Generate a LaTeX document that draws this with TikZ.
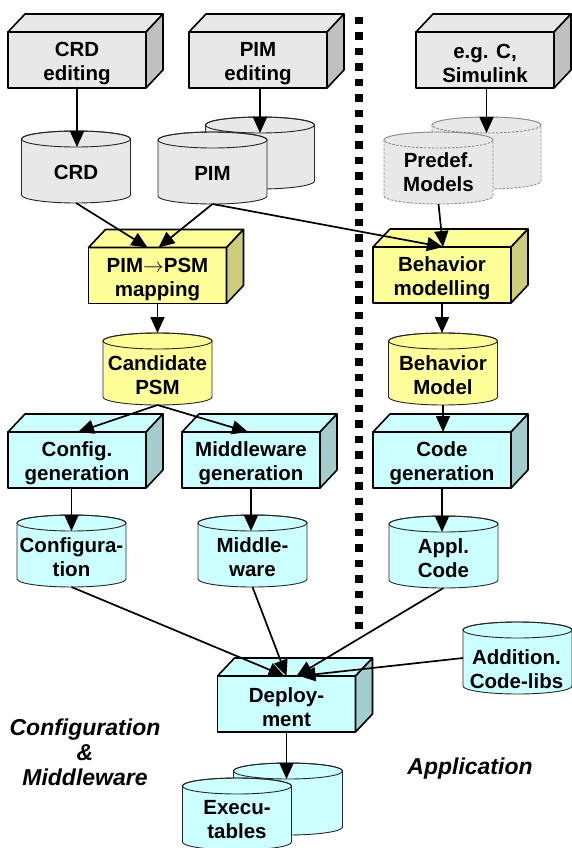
\documentclass[tikz,border=0pt]{standalone}
\usepackage{fontspec}
\setmainfont{Liberation Sans}
\usetikzlibrary{arrows.meta}

\definecolor{grayF}{HTML}{E8E8E8}
\definecolor{grayS}{HTML}{C0C0C0}
\definecolor{yelF}{HTML}{FFFF99}
\definecolor{yelS}{HTML}{CCCC7A}
\definecolor{cyaF}{HTML}{CCFFFF}
\definecolor{cyaS}{HTML}{A3CCCC}

% strut that lowers the two-line text inside the process boxes a little
\newcommand\boxstrut{\rule{0pt}{22pt}}

\tikzset{
  lbl/.style={font=\fontsize{20.5}{24}\selectfont\bfseries, align=center, text=black, inner sep=0pt},
  proc/.style={lbl, draw=black, line width=1.6pt, minimum width=138pt, minimum height=56pt,
    outer sep=0pt, line join=round},
  arr/.style={line width=1.7pt, -{Triangle[length=16pt,width=14pt]}},
  drumline/.style={draw=black!85, line width=0.9pt},
  drumdash/.style={draw=black!45, line width=0.9pt, dash pattern=on 2.5pt off 1.5pt},
  region/.style={font=\fontsize{23}{25}\selectfont\bfseries\itshape, align=center, inner sep=0pt},
  divider/.style={line width=8pt, dash pattern=on 7.5pt off 8pt},
}

% top and side faces of a 3-D process box
\newcommand\procfaces[3]{%
  \filldraw[fill=#2, line width=1.6pt, line join=round]
    (#1.north west) -- ++(17,-18) -- ([shift={(17,-18)}]#1.north east) -- (#1.north east) -- cycle;
  \filldraw[fill=#3, line width=1.6pt, line join=round]
    (#1.north east) -- ++(17,-18) -- ([shift={(17,-18)}]#1.south east) -- (#1.south east) -- cycle;
}

% data store drum: name, centre x, top y, fill, line style
\newcommand\drum[5]{%
  \path[fill=#4, #5] (#2-54.5, #3+8) -- (#2-54.5, #3+64)
    arc[start angle=180, end angle=0, x radius=54.5, y radius=8] -- (#2+54.5, #3+8)
    arc[start angle=0, end angle=-180, x radius=54.5, y radius=8] -- cycle;
  \path[#5] (#2, #3+8) ellipse[x radius=54.5, y radius=8];
  \coordinate (#1-top) at (#2, #3);
  \coordinate (#1-in) at (#2, #3+16);
  \coordinate (#1-bot) at (#2, #3+72);
  \coordinate (#1-left) at (#2-54.5, #3+36);
}

\begin{document}
\begin{tikzpicture}[x=1pt, y=-1pt]
\useasboundingbox (0,0) rectangle (571,848);

% column divider
\draw[divider] (359,17) -- (359,632);

% ---- editors ----
\node[proc, fill=grayF] (crded) at (77,60) {\boxstrut CRD\\editing};
\procfaces{crded}{grayF}{grayS}
\node[proc, fill=grayF] (pimed) at (258,60) {\boxstrut PIM\\editing};
\procfaces{pimed}{grayF}{grayS}
\node[proc, fill=grayF] (simed) at (485,60) {\boxstrut e.g. C,\\Simulink};
\procfaces{simed}{grayF}{grayS}

% ---- source models ----
\drum{crdd}{76}{131}{grayF}{drumline}
\node[lbl] (crd) at (76,172) {CRD};
\drum{pimb}{260}{117}{grayF}{drumline}
\drum{pimd}{212.5}{132}{grayF}{drumline}
\node[lbl] (pim) at (212.5,173) {PIM};
\drum{predefb}{486.5}{117}{grayF}{drumdash}
\drum{predefd}{438.5}{132}{grayF}{drumdash}
\node[lbl] (predef) at (438.5,172) {Predef.\\Models};

% ---- mapping / behaviour ----
\node[proc, fill=yelF] (map) at (157.5,275.5) {\boxstrut PIM$\rightarrow$PSM\\mapping};
\procfaces{map}{yelF}{yelS}
\node[proc, fill=yelF] (bmodg) at (442,275) {\boxstrut Behavior\\modelling};
\procfaces{bmodg}{yelF}{yelS}

\drum{candd}{157.5}{333}{yelF}{drumline}
\node[lbl] (cand) at (157.5,375) {Candidate\\PSM};
\drum{bmodd}{443}{333}{yelF}{drumline}
\node[lbl] (bmod) at (443,375) {Behavior\\Model};

% ---- generators ----
\node[proc, fill=cyaF] (cfgg) at (77,460) {\boxstrut Config.\\generation};
\procfaces{cfgg}{cyaF}{cyaS}
\node[proc, fill=cyaF] (mwg) at (251,460) {\boxstrut Middleware\\generation};
\procfaces{mwg}{cyaF}{cyaS}
\node[proc, fill=cyaF] (codeg) at (442,460) {\boxstrut Code\\generation};
\procfaces{codeg}{cyaF}{cyaS}

\drum{confd}{71.5}{515}{cyaF}{drumline}
\node[lbl] (conf) at (71.5,557) {Configura-\\tion};
\drum{mwrd}{252.5}{515}{cyaF}{drumline}
\node[lbl] (mwr) at (252.5,557) {Middle-\\ware};
\drum{appld}{443.5}{516}{cyaF}{drumline}
\node[lbl] (appl) at (443.5,558) {Appl.\\Code};
\drum{addld}{517.5}{622}{cyaF}{drumline}
\node[lbl] (addl) at (516.5,669) {Addition.\\Code-libs};

% ---- deployment ----
\node[proc, fill=cyaF] (dep) at (286.5,704) {\boxstrut Deploy-\\ment};
\procfaces{dep}{cyaF}{cyaS}
\drum{execb}{288}{763}{cyaF}{drumline}
\drum{execd}{237}{778}{cyaF}{drumline}
\node[lbl] (exec) at (237,820) {Execu-\\tables};

% ---- region labels ----
\node[region] (cmlabel) at (85,752) {Configuration\\\&\\Middleware};
\node[region] (applabel) at (470,769) {Application};

% ---- connectors ----
\draw[arr] (crded.south) -- (crded.south |- crdd-in);
\draw[arr] (pimed.south -| pimb-in) -- (pimb-in);
\draw[arr] (simed.south -| predefb-in) -- (predefb-in);

\draw[arr] (crdd-bot) -- ([xshift=-10pt]map.north);
\draw[arr] (pimd-bot) -- ([xshift=1pt]map.north);
\draw[arr] (pimd-bot) -- ([xshift=1pt]bmodg.north);
\draw[arr] (predefd-bot) -- ([xshift=1pt]bmodg.north);

\draw[arr] (map.south) -- (map.south |- candd-top);
\draw[arr] (bmodg.south) -- (bmodg.south |- bmodd-top);

\draw[arr] (candd-bot) -- ([xshift=1pt]cfgg.north);
\draw[arr] (candd-bot) -- ([xshift=-3pt]mwg.north);
\draw[arr] (bmodd-bot) -- (bmodd-bot |- codeg.north);

\draw[arr] (cfgg.south -| confd-in) -- (confd-in);
\draw[arr] (mwg.south) -- (mwg.south |- mwrd-in);
\draw[arr] (codeg.south) -- (codeg.south |- appld-in);

\draw[arr] (confd-bot) -- ([xshift=-2pt]dep.north);
\draw[arr] (mwrd-bot) -- ([xshift=0pt]dep.north);
\draw[arr] (appld-bot) -- ([xshift=10pt]dep.north);
\draw[arr] (addld-left) -- ([xshift=13pt]dep.north);

\draw[arr] (dep.south) -- (dep.south |- execb-in);
\end{tikzpicture}
\end{document}
